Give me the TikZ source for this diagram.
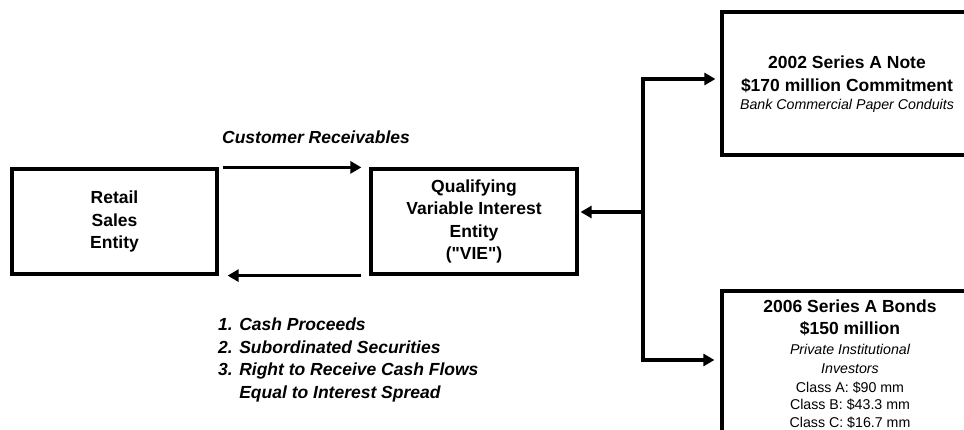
\documentclass[tikz,border=0pt]{standalone}
\usepackage{fontspec}
\setmainfont{Liberation Sans}
\usetikzlibrary{arrows.meta}
\tikzset{
  box/.style={draw, line width=3.2pt, rectangle, inner sep=0pt, align=center,
    font=\bfseries\fontsize{17.5}{22.5}\selectfont},
  frame/.style={draw, line width=3.2pt, rectangle, inner sep=0pt},
  conn/.style={line width=3.2pt, -{Triangle[length=11pt,width=12pt]}},
  boldtxt/.style={inner sep=0pt, align=center, font=\bfseries\fontsize{17.5}{22.5}\selectfont},
  bitxt/.style={inner sep=0pt, align=left, font=\bfseries\itshape\fontsize{17.5}{22.5}\selectfont},
  smallit/.style={inner sep=0pt, align=center, font=\itshape\fontsize{14.2}{18.5}\selectfont},
  smalltxt/.style={inner sep=0pt, align=center, font=\fontsize{14.2}{17.5}\selectfont},
}
\begin{document}
\begin{tikzpicture}[x=1pt,y=-1pt]
\useasboundingbox (0,0) rectangle (964,430);
\clip (0,0) rectangle (964,430);
% left boxes
\node[box, minimum width=205pt, minimum height=105pt] (retail) at (114.5,221.5) {Retail\\Sales\\Entity};
\node[box, minimum width=206pt, minimum height=105pt] (vie) at (474,221.5) {Qualifying\\Variable Interest\\Entity\\(\textquotedbl VIE\textquotedbl)};
% right boxes
\node[frame, minimum width=250pt, minimum height=143pt] (topbox) at (847,83.5) {};
\node[frame, minimum width=250pt, minimum height=170pt] (botbox) at (847,376) {};
% labels
\node[bitxt] (cr) at (316,137) {Customer Receivables};
\node[bitxt, anchor=north west] (list) at (218,318) {1. Cash Proceeds\\2. Subordinated Securities\\3. Right to Receive Cash Flows\\\phantom{3. }Equal to Interest Spread};
% top box text
\node[boldtxt] (t1) at (847,74.5) {2002 Series A Note\\\$170 million Commitment};
\node[smallit] (t2) at (847,106) {Bank Commercial Paper Conduits};
% bottom box text
\node[boldtxt] (b1) at (850,318) {2006 Series A Bonds\\\$150 million};
\node[smallit] (b2) at (850,359) {Private Institutional\\Investors};
\node[smalltxt] (b3) at (850,405) {Class A: \$90 mm\\Class B: \$43.3 mm\\Class C: \$16.7 mm};
% connectors
\draw[conn] ([xshift=4pt]retail.north east) -- ([xshift=-8pt]vie.north west);
\draw[conn] ([xshift=-8pt]vie.south west) -- ([xshift=9pt]retail.south east);
\coordinate (jmid) at (643,212);
\coordinate (jtop) at (643,79);
\coordinate (jbot) at (643,360);
\draw[conn, shorten >=2pt] (jmid) -- (vie.east |- jmid);
\draw[conn] (jmid) |- ([xshift=-5pt]topbox.west |- jtop);
\draw[conn] (jmid) |- ([xshift=-6pt]botbox.west |- jbot);
\end{tikzpicture}
\end{document}
